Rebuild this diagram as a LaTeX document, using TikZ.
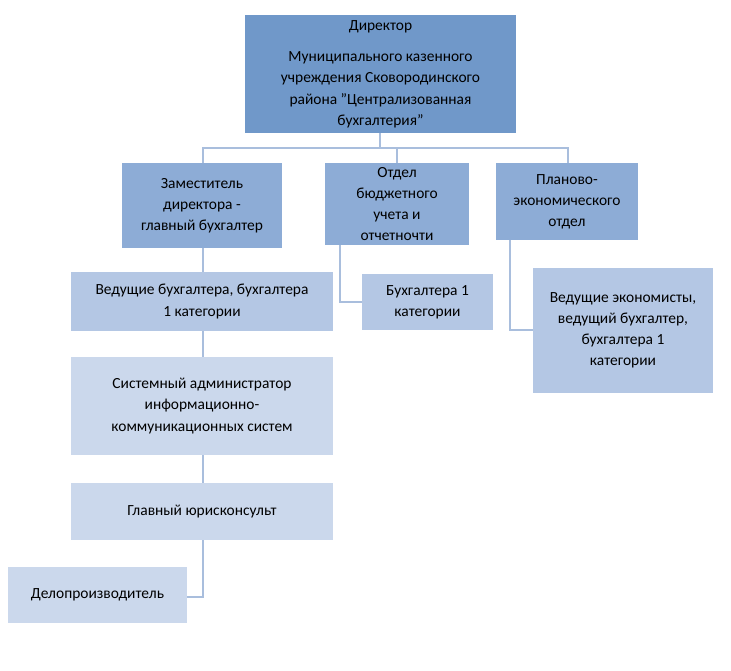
\documentclass[tikz,border=0pt]{standalone}
\usepackage{fontspec}
\setmainfont{Carlito}
\definecolor{lvA}{HTML}{7098C9}
\definecolor{lvB}{HTML}{8DACD6}
\definecolor{lvC}{HTML}{B4C7E4}
\definecolor{lvD}{HTML}{CBD8EC}
\definecolor{wire}{HTML}{A9BEDD}
\tikzset{
	unit/.style={draw=none,inner sep=2pt,align=center,font=\fontsize{8.8}{12}\selectfont},
	link/.style={wire,line width=1.6pt}
}
\begin{document}
\begin{tikzpicture}[x=0.02cm,y=-0.02cm]
	\useasboundingbox (0,0) rectangle (731,671);
	%Connectors behind the boxes
	\coordinate (bus) at (380,148);
	\draw[link] (380,133) -- (bus);
	\draw[link] (203,163) -- (203,148) -- (568,148) -- (568,163);
	\draw[link] (397,148) -- (397,163);
	\draw[link] (203,248) -- (203,597) -- (187,597);
	\draw[link] (340,245) -- (340,302) -- (362,302);
	\draw[link] (510,240) -- (510,330) -- (533,330);
	%Boxes
	\node[unit,fill=lvA,minimum width=5.42cm,minimum height=2.36cm] (dir) at (380.5,74) {Директор\\[6pt]Муниципального казенного\\учреждения Сковородинского\\района "Централизованная\\бухгалтерия"};
	\node[unit,fill=lvB,minimum width=3.2cm,minimum height=1.7cm] (dep) at (202,205.5) {Заместитель\\директора -\\главный бухгалтер};
	\node[unit,fill=lvB,minimum width=2.88cm,minimum height=1.64cm] (otd) at (397,204) {Отдел\\бюджетного\\учета и\\отчетночти};
	\node[unit,fill=lvB,minimum width=2.84cm,minimum height=1.54cm] (plan) at (567,201.5) {Планово-\\экономического\\отдел};
	\node[unit,fill=lvC,minimum width=5.24cm,minimum height=1.18cm] (lead) at (202,301.5) {Ведущие бухгалтера, бухгалтера\\1 категории};
	\node[unit,fill=lvC,minimum width=2.62cm,minimum height=1.12cm] (acc) at (427.5,302) {Бухгалтера 1\\категории};
	\node[unit,fill=lvC,minimum width=3.6cm,minimum height=2.5cm] (econ) at (623,330.5) {Ведущие экономисты,\\ведущий бухгалтер,\\бухгалтера 1\\категории};
	\node[unit,fill=lvD,minimum width=5.24cm,minimum height=1.96cm] (sys) at (202,406) {Системный администратор\\информационно-\\коммуникационных систем};
	\node[unit,fill=lvD,minimum width=5.24cm,minimum height=1.14cm] (law) at (202,511.5) {Главный юрисконсульт};
	\node[unit,fill=lvD,minimum width=3.58cm,minimum height=1.12cm] (clerk) at (97.5,595) {Делопроизводитель};
\end{tikzpicture}
\end{document}
